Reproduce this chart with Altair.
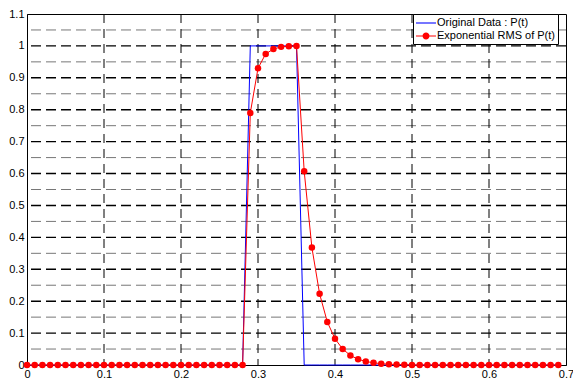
import altair as alt
import pandas as pd

t = [0.00, 0.01, 0.02, 0.03, 0.04, 0.05, 0.06, 0.07, 0.08, 0.09,
     0.10, 0.11, 0.12, 0.13, 0.14, 0.15, 0.16, 0.17, 0.18, 0.19,
     0.20, 0.21, 0.22, 0.23, 0.24, 0.25, 0.26, 0.27, 0.28, 0.29,
     0.30, 0.31, 0.32, 0.33, 0.34, 0.35, 0.36, 0.37, 0.38, 0.39,
     0.40, 0.41, 0.42, 0.43, 0.44, 0.45, 0.46, 0.47, 0.48, 0.49,
     0.50, 0.51, 0.52, 0.53, 0.54, 0.55, 0.56, 0.57, 0.58, 0.59,
     0.60, 0.61, 0.62, 0.63, 0.64, 0.65, 0.66, 0.67, 0.68, 0.69]

original = [0, 0, 0, 0, 0, 0, 0, 0, 0, 0,
            0, 0, 0, 0, 0, 0, 0, 0, 0, 0,
            0, 0, 0, 0, 0, 0, 0, 0, 0, 1,
            1, 1, 1, 1, 1, 1, 0, 0, 0, 0,
            0, 0, 0, 0, 0, 0, 0, 0, 0, 0,
            0, 0, 0, 0, 0, 0, 0, 0, 0, 0,
            0, 0, 0, 0, 0, 0, 0, 0, 0, 0]

rms = [0, 0, 0, 0, 0, 0, 0, 0, 0, 0,
       0, 0, 0, 0, 0, 0, 0, 0, 0, 0,
       0, 0, 0, 0, 0, 0, 0, 0, 0, 0.79,
       0.93, 0.975, 0.99, 0.997, 0.999, 1.0, 0.607, 0.368, 0.223, 0.135,
       0.082, 0.050, 0.030, 0.018, 0.011, 0.007, 0.004, 0.0025, 0.0015, 0.001,
       0, 0, 0, 0, 0, 0, 0, 0, 0, 0,
       0, 0, 0, 0, 0, 0, 0, 0, 0, 0]

series_names = ["Original Data : P(t)", "Exponential RMS of P(t)"]
series_colors = ["#0000ff", "#ff0000"]
legend_shapes = [
    "M-1,-0.09H2.33V0.09H-1Z",
    "M-1,-0.09H2.33V0.09H-1ZM0.09,0A0.58,0.58,0,1,1,1.25,0A0.58,0.58,0,1,1,0.09,0Z",
]

x_ticks = [0, 0.1, 0.2, 0.3, 0.4, 0.5, 0.6, 0.7]
y_ticks = [0, 0.1, 0.2, 0.3, 0.4, 0.5, 0.6, 0.7, 0.8, 0.9, 1.0, 1.1]
x_grid = [0.1, 0.2, 0.3, 0.4, 0.5, 0.6]
y_grid_major = [0.1, 0.2, 0.3, 0.4, 0.5, 0.6, 0.7, 0.8, 0.9, 1.0]
y_grid_minor = [0.05, 0.15, 0.25, 0.35, 0.45, 0.55, 0.65, 0.75, 0.85, 0.95, 1.05]

df_orig = pd.DataFrame({"t": t, "value": original, "series": series_names[0]})
df_rms = pd.DataFrame({"t": t, "value": rms, "series": series_names[1]})
df_all = pd.concat([df_orig, df_rms], ignore_index=True)

xs = alt.Scale(domain=[0, 0.7], nice=False, zero=False)
ys = alt.Scale(domain=[0, 1.1], nice=False, zero=False)

x_axis = alt.Axis(values=x_ticks, format=".1~f", title=None, labelFlush=False, labelOverlap=False)
y_axis = alt.Axis(values=y_ticks, format=".1~f", title=None, labelFlush=False, labelOverlap=False)

x_enc = alt.X("t:Q", scale=xs, axis=x_axis)
y_enc = alt.Y("value:Q", scale=ys, axis=y_axis)

vgrid = alt.Chart(pd.DataFrame({"g": x_grid})).mark_rule(
    color="black", strokeWidth=1, strokeDash=[9, 6]
).encode(x=alt.X("g:Q", scale=xs, axis=x_axis))

hgrid_minor = alt.Chart(pd.DataFrame({"g": y_grid_minor})).mark_rule(
    color="#777777", strokeWidth=1, strokeDash=[10, 5]
).encode(y=alt.Y("g:Q", scale=ys, axis=y_axis))

hgrid_major = alt.Chart(pd.DataFrame({"g": y_grid_major})).mark_rule(
    color="black", strokeWidth=1.4, strokeDash=[10, 5]
).encode(y=alt.Y("g:Q", scale=ys, axis=y_axis))

blue_line = alt.Chart(df_orig).mark_line(color="#0000ff", strokeWidth=1).encode(x=x_enc, y=y_enc)
red_line = alt.Chart(df_rms).mark_line(color="#ff0000", strokeWidth=1).encode(x=x_enc, y=y_enc)
red_pts = alt.Chart(df_rms).mark_circle(color="#ff0000", size=42, opacity=1).encode(x=x_enc, y=y_enc)

leg = alt.Legend(
    title=None, orient="none", legendX=386, legendY=0,
    strokeColor="black", fillColor="white", padding=3,
    labelFont="Liberation Sans", labelFontSize=11, labelColor="black",
    symbolSize=144, symbolStrokeWidth=0, symbolOpacity=1,
    labelOffset=9, rowPadding=2,
)
legend_layer = alt.Chart(df_all).transform_filter("false").mark_point(filled=True, opacity=1).encode(
    x=x_enc,
    y=y_enc,
    color=alt.Color("series:N", scale=alt.Scale(domain=series_names, range=series_colors), legend=leg),
    shape=alt.Shape("series:N", scale=alt.Scale(domain=series_names, range=legend_shapes), legend=leg),
)

chart = alt.layer(
    hgrid_minor, hgrid_major, vgrid, blue_line, red_line, red_pts, legend_layer
).properties(
    width=539, height=351,
    autosize=alt.AutoSizeParams(type="none"),
    padding={"left": 19, "top": 6, "right": 7, "bottom": 13},
).configure_view(
    stroke="black", strokeWidth=1
).configure_axis(
    labelFont="Liberation Sans", labelFontSize=11, labelColor="black",
    domainColor="black", domainWidth=1, ticks=False, grid=False, labelPadding=3,
)

chart.save("out.html", embed_options={"renderer": "svg", "actions": False})
